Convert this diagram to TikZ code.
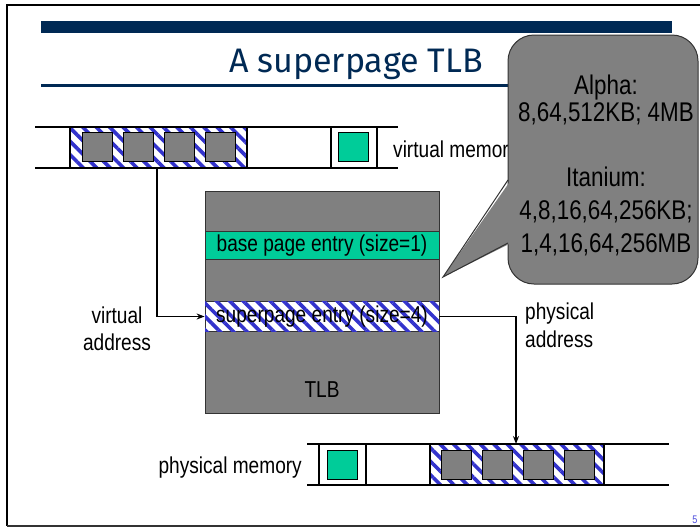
\documentclass[tikz,border=0pt]{standalone}
\usepackage{fontspec}
\setmainfont{Liberation Sans}[FakeStretch=0.83]
\newfontfamily\titlefont{Fira Sans}
\usetikzlibrary{patterns.meta,arrows.meta}
\definecolor{navy}{HTML}{002954}
\definecolor{tgray}{HTML}{808080}
\definecolor{tgreen}{HTML}{00CC99}
\definecolor{hblue}{HTML}{3333CC}
\definecolor{pnum}{HTML}{4A4ADC}
\definecolor{edge}{HTML}{333333}
\begin{document}
\begin{tikzpicture}[x=1pt,y=-1pt,
 body/.style={font=\fontsize{23}{27}\selectfont, inner sep=0pt},
 big/.style={font=\fontsize{27}{32}\selectfont, inner sep=0pt},
 memline/.style={line width=2.6pt},
 hatch/.style={fill=white, postaction={pattern={Lines[angle=-45,distance=9.5pt,line width=3.6pt]}, pattern color=hblue}},
 pagebox/.style={draw=black, line width=0.8pt, fill=tgray, minimum width=30pt, minimum height=29pt, inner sep=0pt},
 gpage/.style={pagebox, fill=tgreen},
 conn/.style={line width=1.3pt, -{Stealth[length=8pt,width=6pt]}},
]
\useasboundingbox (0,0) rectangle (700,528);
% frame
\draw[line width=2.5pt] (700,5) -- (7,5) -- (7,526);
\draw[line width=1.2pt, black!80] (7,526) -- (700,526);
% title
\fill[navy] (41,21) rectangle (672,33);
\draw[navy, line width=3pt] (41,85) -- (672,85);
\node[anchor=base, inner sep=0pt, text=navy, font=\titlefont\fontsize{34}{40}\selectfont] (title) at (356,72) {A superpage TLB};

% virtual memory strip
\node[hatch, minimum width=177pt, minimum height=41pt, inner sep=0pt] (vblock) at (158.5,147.5) {};
\node[pagebox] (v1) at (97,147) {};
\node[pagebox] (v2) at (138,147) {};
\node[pagebox] (v3) at (179,147) {};
\node[pagebox] (v4) at (220,147) {};
\node[gpage] (vg) at (353.5,147) {};
\draw[memline] (35,127) -- (398,127);
\draw[memline] (35,168) -- (398,168);
\foreach \xx in {70,247,331,377} \draw[memline] (\xx,127) -- (\xx,168);
\node[body, anchor=base west] (vmem) at (393,157) {virtual memory};

% TLB
\node[draw=edge, fill=tgray, line width=1pt, minimum width=234pt, minimum height=222pt, inner sep=0pt] (tlb) at (322,302) {};
\node[body, draw=edge, line width=0.8pt, fill=tgreen, minimum width=234pt, minimum height=27.5pt] (base) at (322,245.5) {base page entry (size=1)};
\node[body, hatch, draw=edge, line width=0.8pt, minimum width=234pt, minimum height=29.5pt] (super) at (322,316.5) {superpage entry (size=4)};
\node[body, anchor=base] (tlbl) at (322,397) {TLB};

% virtual address
\coordinate (vtap) at (157,168);
\draw[conn] (vtap) |- (super.west);
\node[body, anchor=base] (va1) at (117,323) {virtual};
\node[body, anchor=base] (va2) at (117,350) {address};

% physical address
\coordinate (ptap) at (516,444);
\draw[conn] (super.east) -| (ptap);
\node[body, anchor=base west] (pa1) at (525,319) {physical};
\node[body, anchor=base west] (pa2) at (525,347) {address};

% physical memory strip
\node[hatch, minimum width=174pt, minimum height=41pt, inner sep=0pt] (pblock) at (517,464.5) {};
\node[pagebox] (p1) at (456,464.5) {};
\node[pagebox] (p2) at (497,464.5) {};
\node[pagebox] (p3) at (538,464.5) {};
\node[pagebox] (p4) at (579,464.5) {};
\node[gpage] (pg) at (342.5,464.5) {};
\draw[memline] (307,444) -- (669,444);
\draw[memline] (307,485) -- (669,485);
\foreach \xx in {319,366,430,604} \draw[memline] (\xx,444) -- (\xx,485);
\node[body, anchor=base east] (pmem) at (302,473) {physical memory};

% callout
\fill[tgray] (508,35) [rounded corners=26pt] rectangle (698,284);
\draw[edge, line width=1pt, rounded corners=26pt] (508,35) rectangle (698,284);
\fill[tgray] (511,180) -- (443,277) -- (511,243) -- cycle;
\draw[edge, line width=1pt, line join=miter] (508,180) -- (443,277) -- (508,243);
\node[big, anchor=base] (c1) at (606,94) {Alpha:};
\node[big, anchor=base] (c2) at (606,121) {8,64,512KB; 4MB};
\node[big, anchor=base] (c3) at (606,186) {Itanium:};
\node[big, anchor=base] (c4) at (606,219) {4,8,16,64,256KB;};
\node[big, anchor=base] (c5) at (606,252) {1,4,16,64,256MB};

% page number
\node[anchor=base, inner sep=0pt, text=pnum, font=\fontsize{11}{13}\selectfont] (pnum) at (695,523) {5};
\end{tikzpicture}
\end{document}
